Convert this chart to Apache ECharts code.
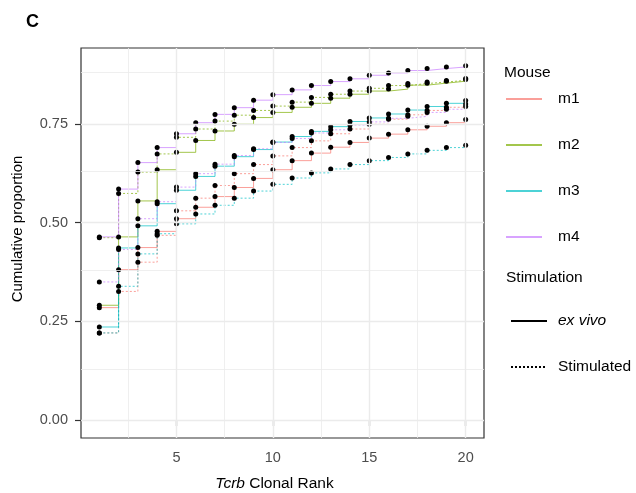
<!DOCTYPE html>
<html>
<head>
<meta charset="utf-8">
<script src="https://cdn.jsdelivr.net/npm/echarts@6/dist/echarts.min.js"></script>
<style>
html, body { margin: 0; padding: 0; background: #fff; }
#chart { width: 636px; height: 493px; }
</style>
</head>
<body>
<div id="chart"></div>
<script>
// clonal rank 1..20
const ranks = [1, 2, 3, 4, 5, 6, 7, 8, 9, 10, 11, 12, 13, 14, 15, 16, 17, 18, 19, 20]

// cumulative proportion
const m1ExVivo = [0.285, 0.381, 0.437, 0.478, 0.510, 0.539, 0.566, 0.589, 0.612, 0.634, 0.657, 0.676, 0.691, 0.703, 0.714, 0.724, 0.735, 0.744, 0.753, 0.761]
const m1Stim = [0.221, 0.326, 0.400, 0.468, 0.530, 0.562, 0.594, 0.624, 0.647, 0.669, 0.690, 0.707, 0.725, 0.737, 0.749, 0.762, 0.773, 0.784, 0.792, 0.800]
const m2ExVivo = [0.291, 0.464, 0.555, 0.634, 0.678, 0.708, 0.732, 0.749, 0.766, 0.779, 0.792, 0.802, 0.815, 0.825, 0.833, 0.838, 0.848, 0.853, 0.858, 0.862]
const m2Stim = [0.462, 0.574, 0.628, 0.674, 0.716, 0.737, 0.757, 0.772, 0.784, 0.795, 0.805, 0.817, 0.825, 0.833, 0.840, 0.847, 0.852, 0.856, 0.860, 0.865]
const m3ExVivo = [0.236, 0.436, 0.492, 0.548, 0.582, 0.617, 0.643, 0.667, 0.685, 0.704, 0.718, 0.731, 0.743, 0.756, 0.765, 0.775, 0.785, 0.794, 0.802, 0.809]
const m3Stim = [0.221, 0.339, 0.421, 0.472, 0.497, 0.522, 0.544, 0.562, 0.580, 0.597, 0.613, 0.626, 0.636, 0.647, 0.657, 0.665, 0.674, 0.683, 0.690, 0.696]
const m4ExVivo = [0.464, 0.585, 0.652, 0.690, 0.725, 0.753, 0.774, 0.791, 0.810, 0.824, 0.836, 0.847, 0.857, 0.864, 0.873, 0.879, 0.885, 0.890, 0.894, 0.897]
const m4Stim = [0.350, 0.432, 0.510, 0.553, 0.590, 0.624, 0.648, 0.670, 0.687, 0.703, 0.713, 0.727, 0.735, 0.747, 0.755, 0.764, 0.769, 0.779, 0.787, 0.794]

const mice = ['m1', 'm2', 'm3', 'm4']
const stimulations = ['ex vivo', 'Stimulated']
const xTicks = [5, 10, 15, 20]
const yTicks = [0, 0.25, 0.5, 0.75]
const xMinorGrid = [2.5, 7.5, 12.5, 17.5]
const yMinorGrid = [0.125, 0.375, 0.625, 0.875]

const mouseColors = { m1: '#F8766D', m2: '#7CAE00', m3: '#00BFC4', m4: '#C77CFF' }
const font = '"Liberation Sans", Arial, sans-serif'
const lineAlpha = 0.7

const curves = [
  { mouse: 'm1', stim: 'ex vivo', values: m1ExVivo },
  { mouse: 'm1', stim: 'Stimulated', values: m1Stim },
  { mouse: 'm2', stim: 'ex vivo', values: m2ExVivo },
  { mouse: 'm2', stim: 'Stimulated', values: m2Stim },
  { mouse: 'm3', stim: 'ex vivo', values: m3ExVivo },
  { mouse: 'm3', stim: 'Stimulated', values: m3Stim },
  { mouse: 'm4', stim: 'ex vivo', values: m4ExVivo },
  { mouse: 'm4', stim: 'Stimulated', values: m4Stim },
]

const dotted = [2, 2]

const gridSeries = {
  type: 'line',
  name: 'grid',
  data: [],
  silent: true,
  z: 0,
  markLine: {
    silent: true,
    symbol: 'none',
    label: { show: false },
    animation: false,
    data: [
      ...xTicks.map((v) => ({ xAxis: v, lineStyle: { color: '#ebebeb', width: 1.4, type: 'solid' } })),
      ...yTicks.map((v) => ({ yAxis: v, lineStyle: { color: '#ebebeb', width: 1.4, type: 'solid' } })),
      ...xMinorGrid.map((v) => ({ xAxis: v, lineStyle: { color: '#ebebeb', width: 0.8, type: 'solid' } })),
      ...yMinorGrid.map((v) => ({ yAxis: v, lineStyle: { color: '#ebebeb', width: 0.8, type: 'solid' } })),
    ],
  },
}

const curveSeries = curves.map((c) => ({
  type: 'line',
  name: c.mouse + ' ' + c.stim,
  step: 'end',
  data: ranks.map((r, i) => [r, c.values[i]]),
  symbol: 'circle',
  symbolSize: 5,
  showAllSymbol: true,
  itemStyle: { color: '#000' },
  lineStyle: {
    color: mouseColors[c.mouse],
    width: 1,
    opacity: lineAlpha,
    type: c.stim === 'ex vivo' ? 'solid' : dotted,
  },
  z: 3,
}))

// legend-only series
const mouseKeys = mice.map((m) => ({
  type: 'line',
  name: m,
  data: [],
  symbol: 'none',
  itemStyle: { color: mouseColors[m] },
  lineStyle: { color: mouseColors[m], width: 1, opacity: lineAlpha },
}))
const stimKeys = stimulations.map((s) => ({
  type: 'line',
  name: s,
  data: [],
  symbol: 'none',
  itemStyle: { color: '#000' },
  lineStyle: { color: '#000', width: 1, type: s === 'ex vivo' ? 'solid' : dotted },
}))

const chart = echarts.init(document.getElementById('chart'), null, { renderer: 'canvas' })

chart.setOption({
  animation: false,
  textStyle: { fontFamily: font },
  title: {
    text: 'C',
    left: 21,
    top: 8,
    textStyle: { fontFamily: font, fontSize: 18, fontWeight: 'bold', color: '#000' },
  },
  grid: {
    left: 81,
    right: 152,
    top: 48,
    bottom: 55,
    outerBoundsMode: 'none',
    containLabel: false,
    show: true,
    borderColor: '#333',
    borderWidth: 1.2,
    backgroundColor: '#fff',
  },
  xAxis: {
    type: 'value',
    min: 0.05,
    max: 20.95,
    name: '{i|Tcrb} Clonal Rank',
    nameLocation: 'middle',
    nameGap: 38,
    nameTextStyle: {
      fontFamily: font,
      fontSize: 15.5,
      color: '#000',
      padding: [0, 16, 0, 0],
      rich: { i: { fontStyle: 'italic', fontSize: 15.5, fontFamily: font, color: '#000' } },
    },
    axisLine: { show: false },
    splitLine: { show: false },
    axisTick: { show: true, customValues: xTicks, length: 6, lineStyle: { color: '#333', width: 1.2 } },
    axisLabel: { customValues: xTicks, color: '#4d4d4d', fontSize: 14.5, fontFamily: font, margin: 12 },
  },
  yAxis: {
    type: 'value',
    min: -0.0449,
    max: 0.942,
    name: 'Cumulative proportion',
    nameLocation: 'middle',
    nameGap: 56,
    nameTextStyle: { fontFamily: font, fontSize: 15, color: '#000', padding: [0, 0, 0, 28] },
    axisLine: { show: false },
    splitLine: { show: false },
    axisTick: { show: true, customValues: yTicks, length: 6, lineStyle: { color: '#333', width: 1.2 } },
    axisLabel: {
      customValues: yTicks,
      color: '#4d4d4d',
      fontSize: 14.5,
      fontFamily: font,
      margin: 13,
      formatter: (v) => v.toFixed(2),
    },
  },
  legend: [
    {
      data: mice,
      orient: 'vertical',
      left: 500,
      top: 86,
      itemWidth: 36,
      itemHeight: 14,
      itemGap: 30,
      selectedMode: false,
      itemStyle: { opacity: 0 },
      textStyle: { fontFamily: font, fontSize: 15.5, lineHeight: 14, color: '#000', padding: [0, 0, 0, 11] },
    },
    {
      data: stimulations,
      orient: 'vertical',
      left: 505,
      top: 308,
      itemWidth: 36,
      itemHeight: 14,
      itemGap: 30,
      selectedMode: false,
      itemStyle: { opacity: 0 },
      formatter: (name) => (name === 'ex vivo' ? '{i|ex vivo}' : name),
      textStyle: {
        fontFamily: font,
        fontSize: 15.5,
        lineHeight: 14,
        color: '#000',
        padding: [0, 0, 0, 6],
        rich: { i: { fontStyle: 'italic', fontSize: 15.5, lineHeight: 14, fontFamily: font, color: '#000' } },
      },
    },
  ],
  graphic: [
    { type: 'text', left: 504, top: 65, style: { text: 'Mouse', font: '15.5px ' + font, fill: '#000' } },
    { type: 'text', left: 506, top: 270, style: { text: 'Stimulation', font: '15.5px ' + font, fill: '#000' } },
  ],
  series: [gridSeries, ...curveSeries, ...mouseKeys, ...stimKeys],
})
</script>
</body>
</html>
